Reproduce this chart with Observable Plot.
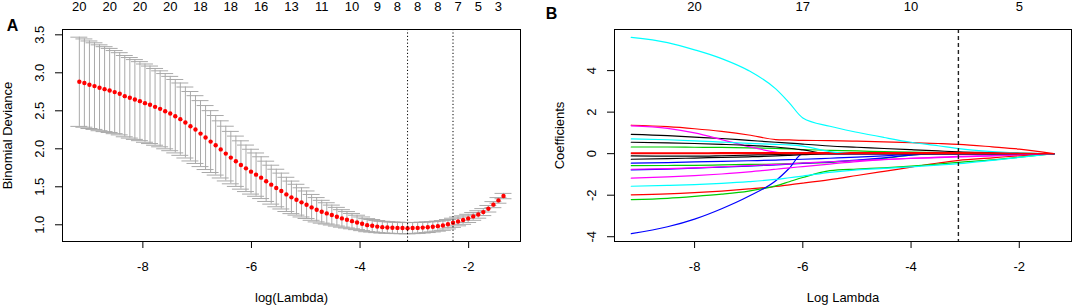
<!DOCTYPE html>
<html><head><meta charset="utf-8">
<script src="https://cdn.jsdelivr.net/npm/d3@7"></script>
<script src="https://cdn.jsdelivr.net/npm/@observablehq/plot@0.6"></script>
<style>
html,body{margin:0;padding:0;background:#fff;}
#wrap{display:flex;width:1074px;height:306px;}
#wrap > div{width:537px;height:306px;}
svg{display:block;}
</style></head>
<body><div id="wrap"><div id="a"></div><div id="b"></div></div>
<script>
// ---------- Panel A: cross-validation curve ----------
const logLambda = [-9.170,-9.077,-8.984,-8.891,-8.798,-8.705,-8.612,-8.519,-8.426,-8.333,
  -8.240,-8.147,-8.054,-7.961,-7.868,-7.775,-7.682,-7.589,-7.496,-7.403,
  -7.310,-7.217,-7.124,-7.031,-6.938,-6.845,-6.752,-6.659,-6.566,-6.473,
  -6.380,-6.287,-6.194,-6.101,-6.008,-5.915,-5.822,-5.729,-5.636,-5.543,
  -5.450,-5.357,-5.264,-5.171,-5.078,-4.985,-4.892,-4.799,-4.706,-4.613,
  -4.520,-4.427,-4.334,-4.241,-4.148,-4.055,-3.962,-3.869,-3.776,-3.683,
  -3.590,-3.497,-3.404,-3.311,-3.218,-3.125,-3.032,-2.939,-2.846,-2.753,
  -2.660,-2.567,-2.474,-2.381,-2.288,-2.195,-2.102,-2.009,-1.916,-1.823,
  -1.730,-1.637,-1.544,-1.451,-1.358];
const cvMean = [2.882,2.865,2.843,2.825,2.803,2.785,2.768,2.746,2.724,2.693,
  2.671,2.649,2.627,2.601,2.579,2.552,2.526,2.495,2.464,2.429,
  2.390,2.346,2.297,2.253,2.200,2.148,2.095,2.046,1.992,1.937,
  1.884,1.836,1.787,1.743,1.699,1.660,1.620,1.572,1.528,1.484,
  1.444,1.400,1.361,1.330,1.295,1.264,1.229,1.198,1.172,1.150,
  1.128,1.106,1.084,1.066,1.048,1.031,1.013,0.995,0.987,0.976,
  0.969,0.965,0.961,0.959,0.957,0.955,0.957,0.959,0.963,0.968,
  0.974,0.982,0.991,1.007,1.026,1.044,1.062,1.084,1.110,1.136,
  1.167,1.211,1.265,1.321,1.378];
const cvSd = [0.587,0.581,0.576,0.570,0.565,0.559,0.553,0.547,0.541,0.535,
  0.530,0.525,0.520,0.515,0.510,0.505,0.500,0.495,0.489,0.483,
  0.476,0.467,0.457,0.446,0.434,0.421,0.407,0.392,0.376,0.360,
  0.345,0.331,0.318,0.306,0.295,0.285,0.275,0.265,0.256,0.247,
  0.236,0.225,0.214,0.203,0.192,0.181,0.170,0.160,0.150,0.140,
  0.131,0.123,0.115,0.108,0.101,0.095,0.090,0.086,0.082,0.079,
  0.077,0.076,0.075,0.075,0.074,0.074,0.073,0.072,0.071,0.070,
  0.068,0.066,0.064,0.062,0.060,0.058,0.056,0.054,0.051,0.049,
  0.046,0.043,0.040,0.037,0.035];
const nzLambdaA = [-9.170,-8.612,-8.054,-7.496,-6.938,-6.380,-5.822,-5.264,-4.706,-4.148,-3.683,-3.311,-2.939,-2.567,-2.195,-1.823,-1.451];
const nzLabelsA = [20,20,20,20,18,18,16,13,11,10,9,8,8,8,7,5,3];
const lambdaMin = -3.125;
const lambda1se = -2.288;
const xTicks = [-8,-6,-4,-2];
const yTicksA = [1.0,1.5,2.0,2.5,3.0,3.5];

// ---------- Panel B: coefficient paths ----------
const knotLambda = [-9.17,-8.5,-8,-7.5,-7,-6.5,-6.25,-6,-5.5,-5,-4.5,-4,-3.5,-3.12,-2.5,-2,-1.36];
const cyanTop   = [5.60,5.35,5.00,4.58,4.00,3.12,2.45,1.72,1.32,1.03,0.78,0.55,0.38,0.24,0.10,0.03,0];
const redHi     = [1.37,1.30,1.20,1.07,0.90,0.68,0.66,0.64,0.63,0.60,0.57,0.53,0.49,0.45,0.33,0.22,0];
const blackHi   = [0.93,0.87,0.80,0.73,0.64,0.55,0.51,0.46,0.37,0.31,0.25,0.19,0.13,0.09,0.05,0.02,0];
const blackMid  = [0.55,0.52,0.49,0.45,0.40,0.32,0.26,0.18,0,0,0,0,0,0,0,0,0];
const cyanMid   = [0.71,0.67,0.62,0.56,0.50,0.45,0.42,0.36,0.10,0,0,0,0,0,0,0,0];
const magentaHi = [1.34,1.22,1.00,0.68,0.34,0.08,0,0,0,0,0,0,0,0,0,0,0];
const greenHi   = [0.32,0.32,0.31,0.30,0.28,0.25,0.23,0.20,0.16,0.13,0.10,0.07,0.05,0.04,0.02,0.01,0];
const redZero   = [0.04,0.04,0.04,0.05,0.05,0.05,0.05,0.05,0.05,0.05,0.05,0.05,0.05,0.05,0.04,0.02,0];
const blackNeg1 = [-0.11,-0.12,-0.12,-0.10,-0.07,-0.04,-0.02,0,0,0,0,0,0,0,0,0,0];
const blackNeg2 = [-0.27,-0.24,-0.21,-0.18,-0.15,-0.11,-0.08,-0.05,0,0,0,0,0,0,0,0,0];
const blueNeg   = [-0.46,-0.43,-0.40,-0.37,-0.34,-0.31,-0.29,-0.27,-0.22,-0.17,-0.11,-0.03,0,0,0,0,0];
const greenNeg  = [-0.58,-0.57,-0.56,-0.54,-0.52,-0.50,-0.48,-0.46,-0.42,-0.33,-0.22,-0.07,0,0,0,0,0];
const blueMid   = [-0.78,-0.74,-0.70,-0.65,-0.60,-0.54,-0.51,-0.47,-0.40,-0.31,-0.20,-0.07,0,0,0,0,0];
const magentaMid= [-0.75,-0.72,-0.68,-0.63,-0.58,-0.52,-0.49,-0.45,-0.39,-0.33,-0.28,-0.23,-0.19,-0.16,-0.11,-0.06,0];
const magentaLow= [-1.18,-1.12,-1.06,-0.98,-0.88,-0.75,-0.68,-0.62,-0.50,-0.38,-0.29,-0.22,-0.17,-0.13,-0.09,-0.05,0];
const cyanLow   = [-1.57,-1.53,-1.49,-1.43,-1.35,-1.24,-1.16,-1.08,-0.90,-0.78,-0.71,-0.64,-0.55,-0.48,-0.32,-0.18,0];
const redLow    = [-1.98,-1.94,-1.88,-1.80,-1.70,-1.58,-1.50,-1.42,-1.25,-1.05,-0.85,-0.65,-0.45,-0.32,-0.20,-0.10,0];
const greenLow  = [-2.21,-2.15,-2.06,-1.95,-1.80,-1.55,-1.35,-1.15,-0.82,-0.74,-0.68,-0.60,-0.50,-0.42,-0.30,-0.17,0];
const blueSteep = [-3.85,-3.52,-3.15,-2.65,-2.05,-1.30,-0.70,0,0,0,0,0,0,0,0,0,0];
const redFlat   = [0,0,0,0,0,0,0,0,0,0,0,0,0,0,0,0,0];
const pathValues = [blackHi,redHi,greenHi,blueNeg,cyanTop,magentaHi,blackMid,redZero,greenNeg,blueMid,
                    cyanMid,magentaMid,blackNeg1,redLow,greenLow,blueSteep,cyanLow,magentaLow,blackNeg2,redFlat];
const pathColors = ["#000000","#FF0000","#00CD00","#0000FF","#00FFFF","#FF00FF","#000000","#FF0000","#00CD00","#0000FF",
                    "#00FFFF","#FF00FF","#000000","#FF0000","#00CD00","#0000FF","#00FFFF","#FF00FF","#000000","#FF0000"];
const nzLambdaB = [-8,-6,-4,-2];
const nzLabelsB = [20,17,10,5];
const yTicksB = [-4,-2,0,2,4];

const font = "'Liberation Sans', Arial, Helvetica, sans-serif";
const styleObj = {fontFamily: font, fontSize: "13px", background: "white", color: "black", overflow: "visible"};

// Panel A
const cvRows = logLambda.map((x, i) => ({x, m: cvMean[i], lo: cvMean[i] - cvSd[i], hi: cvMean[i] + cvSd[i]}));
const barw = 0.02 * (d3.max(logLambda) - d3.min(logLambda));

const plotA = Plot.plot({
  width: 537, height: 306,
  marginLeft: 62, marginRight: 17, marginTop: 29, marginBottom: 65,
  x: {domain: [-9.48, -1.045], label: null},
  y: {domain: [0.78, 3.57], label: null},
  style: styleObj,
  marks: [
    Plot.ruleX(cvRows, {x: "x", y1: "lo", y2: "hi", stroke: "#A9A9A9", strokeWidth: 1}),
    Plot.ruleY(cvRows, {y: "hi", x1: d => d.x - barw, x2: d => d.x + barw, stroke: "#A9A9A9", strokeWidth: 1}),
    Plot.ruleY(cvRows, {y: "lo", x1: d => d.x - barw, x2: d => d.x + barw, stroke: "#A9A9A9", strokeWidth: 1}),
    Plot.dot(cvRows, {x: "x", y: "m", r: 2.2, fill: "#FF0000", stroke: "none"}),
    Plot.ruleX([lambdaMin, lambda1se], {stroke: "#000", strokeWidth: 1, strokeDasharray: "1.2,2.2"}),
    Plot.frame({stroke: "#000", strokeWidth: 1}),
    Plot.axisX({ticks: xTicks, tickSize: 7, tickPadding: 13, tickFormat: d => String(d), label: null, fontSize: 13}),
    Plot.axisY({ticks: yTicksA, tickSize: 7, tickPadding: 12, tickRotate: -90, tickFormat: d3.format(".1f"), label: null, fontSize: 13}),
    Plot.text(nzLambdaA, {x: d => d, text: (d, i) => String(nzLabelsA[i]), frameAnchor: "top", lineAnchor: "middle", dy: -23, fontSize: 13}),
    Plot.text(["log(Lambda)"], {frameAnchor: "bottom", lineAnchor: "middle", textAnchor: "middle", dy: 56, fontSize: 13}),
    Plot.text(["Binomial Deviance"], {frameAnchor: "left", textAnchor: "middle", lineAnchor: "middle", dx: -55, rotate: -90, fontSize: 13}),
    Plot.text(["A"], {frameAnchor: "top-left", textAnchor: "middle", lineAnchor: "middle", dx: -50, dy: -4, fontSize: 16, fontWeight: "bold"})
  ]
});
document.getElementById("a").appendChild(plotA);

// Panel B
const pathMarks = pathValues.map((vals, k) =>
  Plot.line(knotLambda.map((x, i) => ({x, y: vals[i]})), {x: "x", y: "y", stroke: pathColors[k], strokeWidth: 1.2, curve: "monotone-x"})
);

const plotB = Plot.plot({
  width: 537, height: 306,
  marginLeft: 77, marginRight: 3, marginTop: 29, marginBottom: 65,
  x: {domain: [-9.48, -1.035], label: null},
  y: {domain: [-4.23, 5.98], label: null},
  style: styleObj,
  marks: [
    ...pathMarks,
    Plot.ruleX([lambdaMin], {stroke: "#222", strokeWidth: 1.4, strokeDasharray: "4,3"}),
    Plot.frame({stroke: "#000", strokeWidth: 1}),
    Plot.axisX({ticks: xTicks, tickSize: 7, tickPadding: 13, tickFormat: d => String(d), label: null, fontSize: 13}),
    Plot.axisY({ticks: yTicksB, tickSize: 7, tickPadding: 11.5, tickRotate: -90, tickFormat: d => String(d), label: null, fontSize: 13}),
    Plot.text(nzLambdaB, {x: d => d, text: (d, i) => String(nzLabelsB[i]), frameAnchor: "top", lineAnchor: "middle", dy: -23, fontSize: 13}),
    Plot.text(["Log Lambda"], {frameAnchor: "bottom", lineAnchor: "middle", textAnchor: "middle", dy: 56, fontSize: 13}),
    Plot.text(["Coefficients"], {frameAnchor: "left", textAnchor: "middle", lineAnchor: "middle", dx: -55, rotate: -90, fontSize: 13}),
    Plot.text(["B"], {frameAnchor: "top-left", textAnchor: "middle", lineAnchor: "middle", dx: -63, dy: -16, fontSize: 16, fontWeight: "bold"})
  ]
});
document.getElementById("b").appendChild(plotB);
</script>
</body></html>
